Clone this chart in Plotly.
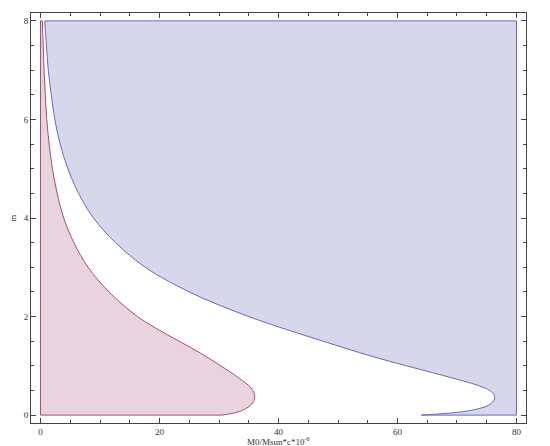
import plotly.graph_objects as go

# Boundary of the red (inner) region: x as a function of m
red_m = [0, 0.05, 0.1, 0.2, 0.3, 0.4, 0.5, 0.6, 0.8, 1.0, 1.25, 1.5, 1.77, 2.0, 2.5, 3.0, 3.5, 4.0, 4.5, 5.0, 5.5, 6.0, 6.5, 7.0, 7.5, 8.0]
red_x = [30.5, 32.8, 34.0, 35.3, 35.9, 36.0, 35.7, 35.0, 32.8, 30.3, 27.0, 23.3, 19.3, 16.3, 11.5, 8.0, 5.6, 3.9, 2.8, 2.0, 1.45, 1.05, 0.8, 0.6, 0.45, 0.3]

# Boundary of the blue (outer) region
blue_m = [0, 0.05, 0.1, 0.2, 0.3, 0.4, 0.5, 0.6, 0.8, 1.0, 1.2, 1.5, 2.0, 2.5, 3.0, 3.5, 4.0, 4.5, 5.0, 5.5, 6.0, 6.5, 7.0, 7.5, 8.0]
blue_x = [64.0, 69.5, 72.5, 75.3, 76.2, 76.3, 75.5, 73.6, 67.8, 61.5, 55.5, 47.5, 35.0, 25.0, 17.6, 12.6, 8.9, 6.4, 4.6, 3.3, 2.4, 1.8, 1.3, 1.0, 0.7]

x_min = 0
x_max = 80
m_min = 0
m_max = 8
x_ticks = [0, 20, 40, 60, 80]
y_ticks = [0, 2, 4, 6, 8]

red_fill = "rgb(232,211,222)"
red_line = "#a3506f"
blue_fill = "rgb(214,215,235)"
blue_line = "#6a6ab8"

fig = go.Figure()
noleg = dict(hoverinfo="skip", showlegend=False)
spl = dict(shape="spline", smoothing=1.0)

# red region: between x = 0 and the red curve
fig.add_trace(go.Scatter(x=[x_min] * len(red_m), y=red_m, mode="lines", line=dict(width=0), **noleg))
fig.add_trace(go.Scatter(x=red_x, y=red_m, mode="lines", fill="tonextx", fillcolor=red_fill,
                         line=dict(color=red_line, width=1, **spl), **noleg))
# red straight edges
fig.add_trace(go.Scatter(x=[red_x[0], x_min, x_min, red_x[-1]], y=[m_min, m_min, m_max, m_max], mode="lines",
                         line=dict(color=red_line, width=1), **noleg))

# blue region: between the blue curve and x = 80
fig.add_trace(go.Scatter(x=[x_max] * len(blue_m), y=blue_m, mode="lines", line=dict(width=0), **noleg))
fig.add_trace(go.Scatter(x=blue_x, y=blue_m, mode="lines", fill="tonextx", fillcolor=blue_fill,
                         line=dict(color=blue_line, width=1, **spl), **noleg))
fig.add_trace(go.Scatter(x=[blue_x[-1], x_max, x_max, blue_x[0]], y=[m_max, m_max, m_min, m_min], mode="lines",
                         line=dict(color=blue_line, width=1), **noleg))

tickfont = dict(family="Liberation Serif", size=9, color="#333333")
axis_common = dict(showgrid=False, zeroline=False, showline=True, linecolor="#444444", linewidth=1,
                   mirror="allticks", ticks="inside", tickcolor="#444444", tickfont=tickfont)

fig.update_xaxes(range=[-1.6, 81.6], tickvals=x_ticks, ticklen=5,
                 minor=dict(dtick=5, tick0=0, ticklen=3, ticks="inside", tickcolor="#444444"),
                 automargin=False, **axis_common)
fig.update_yaxes(range=[-0.16, 8.16], tickvals=y_ticks, ticklen=5,
                 minor=dict(dtick=0.5, tick0=0, ticklen=3, ticks="inside", tickcolor="#444444"),
                 automargin=False, **axis_common)

fig.add_annotation(text="M0/Msun*c*10<sup>-6</sup>", x=0.5, y=-0.043, xref="paper", yref="paper",
                   showarrow=False, font=dict(family="Liberation Serif", size=9, color="#333333"),
                   xanchor="center", yanchor="middle")
fig.add_annotation(text="m", x=-0.037, y=0.5, xref="paper", yref="paper", textangle=-90,
                   showarrow=False, font=dict(family="Liberation Serif", size=9, color="#333333"),
                   xanchor="center", yanchor="middle")

fig.update_layout(width=550, height=446, margin=dict(l=23, r=32, t=5, b=31),
                  plot_bgcolor="white", paper_bgcolor="white")

fig.write_html("out.html")
